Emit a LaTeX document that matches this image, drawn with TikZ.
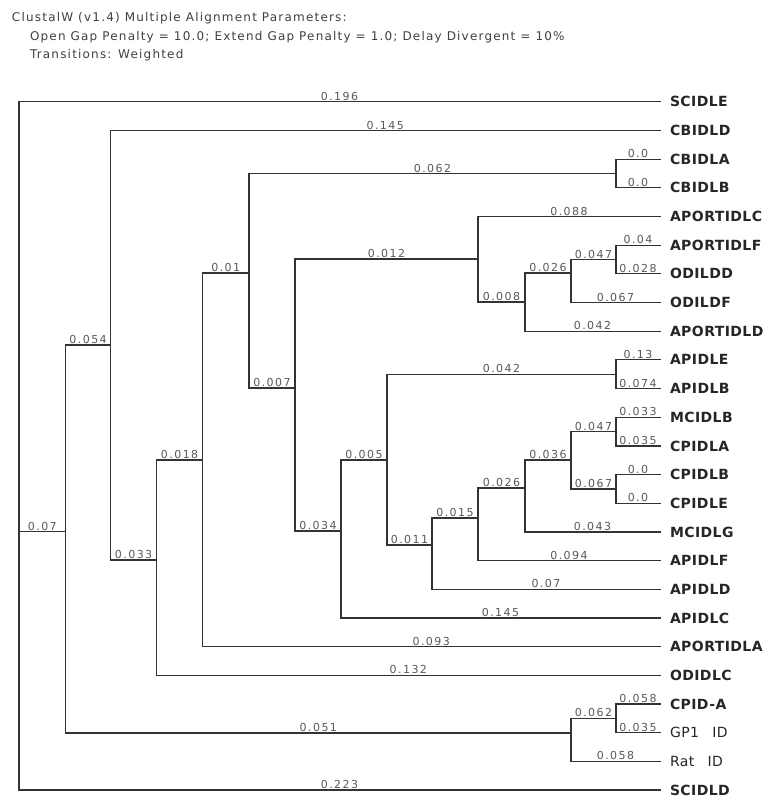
\documentclass[tikz,border=0pt]{standalone}
\usepackage{fontspec}
\setmainfont{DejaVu Sans}
\newfontfamily\leaffont[LetterSpace=3]{DejaVu Sans}
\newfontfamily\numfont[LetterSpace=13]{DejaVu Sans}
\newfontfamily\titlefont[LetterSpace=10]{DejaVu Sans}
\newcommand{\brn}[3]{\draw[branch] (#1 |- #2) -- node[lab]{#3} (#2);}
\newcommand{\vrt}[3]{\draw[branch] (#1 |- #2) -- (#1 |- #3);}
\begin{document}
\begin{tikzpicture}[x=0.75pt,y=-0.75pt,
  branch/.style={draw=black!80, line width=0.9pt, line cap=rect},
  lab/.style={font=\numfont\fontsize{8.25}{9}\selectfont, text=black!65, inner sep=0pt, outer sep=0pt, anchor=south, yshift=0.9pt, midway},
  leaf/.style={font=\leaffont\bfseries\fontsize{10.5}{12}\selectfont, text=black!85, inner sep=0pt, outer sep=0pt, anchor=west},
  leafr/.style={font=\leaffont\fontsize{10.5}{12}\selectfont, text=black!85, inner sep=0pt, outer sep=0pt, anchor=west},
  title/.style={font=\titlefont\fontsize{9}{10}\selectfont, text=black!75, inner sep=0pt, outer sep=0pt, anchor=base west}]
\fill[white] (0,0) rectangle (765,800);
\useasboundingbox (0,0) rectangle (765,800);
% title
\node[title] (t1) at (12,21.7) {ClustalW (v1.4) Multiple Alignment Parameters:};
\node[title] (t2) at (30,40) {Open Gap Penalty = 10.0; Extend Gap Penalty = 1.0; Delay Divergent = 10\%};
\node[title] (t3) at (30,58.5) {Transitions: Weighted};
% leaf ends and labels
\foreach \i/\y in {0/101.7,1/130.4,2/159.1,3/187.7,4/216.4,5/245.1,6/273.8,7/302.5,8/331.1,9/359.8,10/388.5,11/417.2,12/445.9,13/474.5,14/503.2,15/531.9,16/560.6,17/589.3,18/617.9,19/646.6,20/675.3,21/704.0,22/732.7,23/761.3,24/790.0}
  {\coordinate (e\i) at (660,\y);}
\node[leaf] (L0) at (670,101.7) {SCIDLE};
\node[leaf] (L1) at (670,130.4) {CBIDLD};
\node[leaf] (L2) at (670,159.1) {CBIDLA};
\node[leaf] (L3) at (670,187.7) {CBIDLB};
\node[leaf] (L4) at (670,216.4) {APORTIDLC};
\node[leaf] (L5) at (670,245.1) {APORTIDLF};
\node[leaf] (L6) at (670,273.8) {ODILDD};
\node[leaf] (L7) at (670,302.5) {ODILDF};
\node[leaf] (L8) at (670,331.1) {APORTIDLD};
\node[leaf] (L9) at (670,359.8) {APIDLE};
\node[leaf] (L10) at (670,388.5) {APIDLB};
\node[leaf] (L11) at (670,417.2) {MCIDLB};
\node[leaf] (L12) at (670,445.9) {CPIDLA};
\node[leaf] (L13) at (670,474.5) {CPIDLB};
\node[leaf] (L14) at (670,503.2) {CPIDLE};
\node[leaf] (L15) at (670,531.9) {MCIDLG};
\node[leaf] (L16) at (670,560.6) {APIDLF};
\node[leaf] (L17) at (670,589.3) {APIDLD};
\node[leaf] (L18) at (670,617.9) {APIDLC};
\node[leaf] (L19) at (670,646.6) {APORTIDLA};
\node[leaf] (L20) at (670,675.3) {ODIDLC};
\node[leaf] (L21) at (670,704.0) {CPID-A};
\node[leafr] (L22) at (670,732.7) {GP1\hspace{10pt}ID};
\node[leafr] (L23) at (670,761.3) {Rat\hspace{10pt}ID};
\node[leaf] (L24) at (670,790.0) {SCIDLD};
% internal nodes
\coordinate (R) at (19,445);
\coordinate (n07) at (65.7,531.7);
\coordinate (n054) at (110.5,345);
\coordinate (n033) at (156.7,560);
\coordinate (n018) at (202.5,460);
\coordinate (n01) at (249,273);
\coordinate (n062a) at (616,173.4);
\coordinate (n007) at (295,388);
\coordinate (n012) at (478,259);
\coordinate (n008) at (525,302);
\coordinate (n026a) at (571,273);
\coordinate (n047a) at (616,259.5);
\coordinate (n034) at (341,531);
\coordinate (n005) at (387,460);
\coordinate (n042) at (616,374.1);
\coordinate (n011) at (432,545);
\coordinate (n015) at (478,518);
\coordinate (n026b) at (525,488);
\coordinate (n036) at (571,460);
\coordinate (n047b) at (616,431.5);
\coordinate (n067) at (616,488.9);
\coordinate (n051) at (571,733);
\coordinate (n062b) at (616,718.3);
% verticals
\vrt{R}{e0}{e24}
\vrt{n07}{n054}{n051}
\vrt{n054}{e1}{n033}
\vrt{n033}{n018}{e20}
\vrt{n018}{n01}{e19}
\vrt{n01}{n062a}{n007}
\vrt{n062a}{e2}{e3}
\vrt{n007}{n012}{n034}
\vrt{n012}{e4}{n008}
\vrt{n008}{n026a}{e8}
\vrt{n026a}{n047a}{e7}
\vrt{n047a}{e5}{e6}
\vrt{n034}{n005}{e18}
\vrt{n005}{n042}{n011}
\vrt{n042}{e9}{e10}
\vrt{n011}{n015}{e17}
\vrt{n015}{n026b}{e16}
\vrt{n026b}{n036}{e15}
\vrt{n036}{n047b}{n067}
\vrt{n047b}{e11}{e12}
\vrt{n067}{e13}{e14}
\vrt{n051}{n062b}{e23}
\vrt{n062b}{e21}{e22}
% horizontal branches with lengths
\brn{R}{e0}{0.196}
\brn{R}{n07}{0.07}
\brn{R}{e24}{0.223}
\brn{n07}{n054}{0.054}
\brn{n07}{n051}{0.051}
\brn{n054}{e1}{0.145}
\brn{n054}{n033}{0.033}
\brn{n033}{n018}{0.018}
\brn{n033}{e20}{0.132}
\brn{n018}{n01}{0.01}
\brn{n018}{e19}{0.093}
\brn{n01}{n062a}{0.062}
\brn{n01}{n007}{0.007}
\brn{n062a}{e2}{0.0}
\brn{n062a}{e3}{0.0}
\brn{n007}{n012}{0.012}
\brn{n007}{n034}{0.034}
\brn{n012}{e4}{0.088}
\brn{n012}{n008}{0.008}
\brn{n008}{n026a}{0.026}
\brn{n008}{e8}{0.042}
\brn{n026a}{n047a}{0.047}
\brn{n026a}{e7}{0.067}
\brn{n047a}{e5}{0.04}
\brn{n047a}{e6}{0.028}
\brn{n034}{n005}{0.005}
\brn{n034}{e18}{0.145}
\brn{n005}{n042}{0.042}
\brn{n005}{n011}{0.011}
\brn{n042}{e9}{0.13}
\brn{n042}{e10}{0.074}
\brn{n011}{n015}{0.015}
\brn{n011}{e17}{0.07}
\brn{n015}{n026b}{0.026}
\brn{n015}{e16}{0.094}
\brn{n026b}{n036}{0.036}
\brn{n026b}{e15}{0.043}
\brn{n036}{n047b}{0.047}
\brn{n036}{n067}{0.067}
\brn{n047b}{e11}{0.033}
\brn{n047b}{e12}{0.035}
\brn{n067}{e13}{0.0}
\brn{n067}{e14}{0.0}
\brn{n051}{n062b}{0.062}
\brn{n051}{e23}{0.058}
\brn{n062b}{e21}{0.058}
\brn{n062b}{e22}{0.035}
\end{tikzpicture}
\end{document}
